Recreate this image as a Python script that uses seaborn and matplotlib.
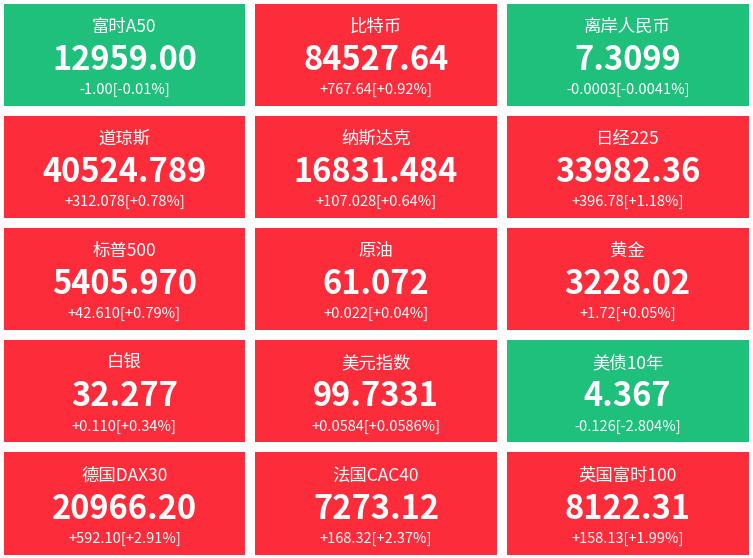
import numpy as np
import pandas as pd
import seaborn as sns
import matplotlib.pyplot as plt
from matplotlib.colors import ListedColormap

names = ["富时A50", "比特币", "离岸人民币",
         "道琼斯", "纳斯达克", "日经225",
         "标普500", "原油", "黄金",
         "白银", "美元指数", "美债10年",
         "德国DAX30", "法国CAC40", "英国富时100"]
prices = ["12959.00", "84527.64", "7.3099",
          "40524.789", "16831.484", "33982.36",
          "5405.970", "61.072", "3228.02",
          "32.277", "99.7331", "4.367",
          "20966.20", "7273.12", "8122.31"]
changes = ["-1.00[-0.01%]", "+767.64[+0.92%]", "-0.0003[-0.0041%]",
           "+312.078[+0.78%]", "+107.028[+0.64%]", "+396.78[+1.18%]",
           "+42.610[+0.79%]", "+0.022[+0.04%]", "+1.72[+0.05%]",
           "+0.110[+0.34%]", "+0.0584[+0.0586%]", "-0.126[-2.804%]",
           "+592.10[+2.91%]", "+168.32[+2.37%]", "+158.13[+1.99%]"]

ncols, nrows = 3, 5
# 1 = up (red), 0 = down (green)
up = np.array([0 if c.startswith("-") else 1 for c in changes]).reshape(nrows, ncols)

plt.rcParams["font.family"] = ["Noto Sans CJK SC", "DejaVu Sans"]
fig = plt.figure(figsize=(7.53, 5.58), dpi=100)
ax = fig.add_axes([-1.5 / 753, -1.5 / 558, 755 / 753, 561 / 558])

sns.heatmap(up, ax=ax, cmap=ListedColormap(["#1fc07c", "#fd2c3b"]), vmin=0, vmax=1,
            cbar=False, linewidths=7, linecolor="white", xticklabels=False, yticklabels=False)

for i in range(nrows * ncols):
    r, c = divmod(i, ncols)
    ax.text(c + 0.5, r + 0.25, names[i], ha="center", va="center", color="white", fontsize=12.5)
    ax.text(c + 0.5, r + 0.55, prices[i], ha="center", va="center", color="white",
            fontsize=23.5, fontweight="bold")
    ax.text(c + 0.5, r + 0.815, changes[i], ha="center", va="center", color="white", fontsize=10.5)

ax.axis("off")
fig.savefig("out.png", dpi=100, facecolor="white")
